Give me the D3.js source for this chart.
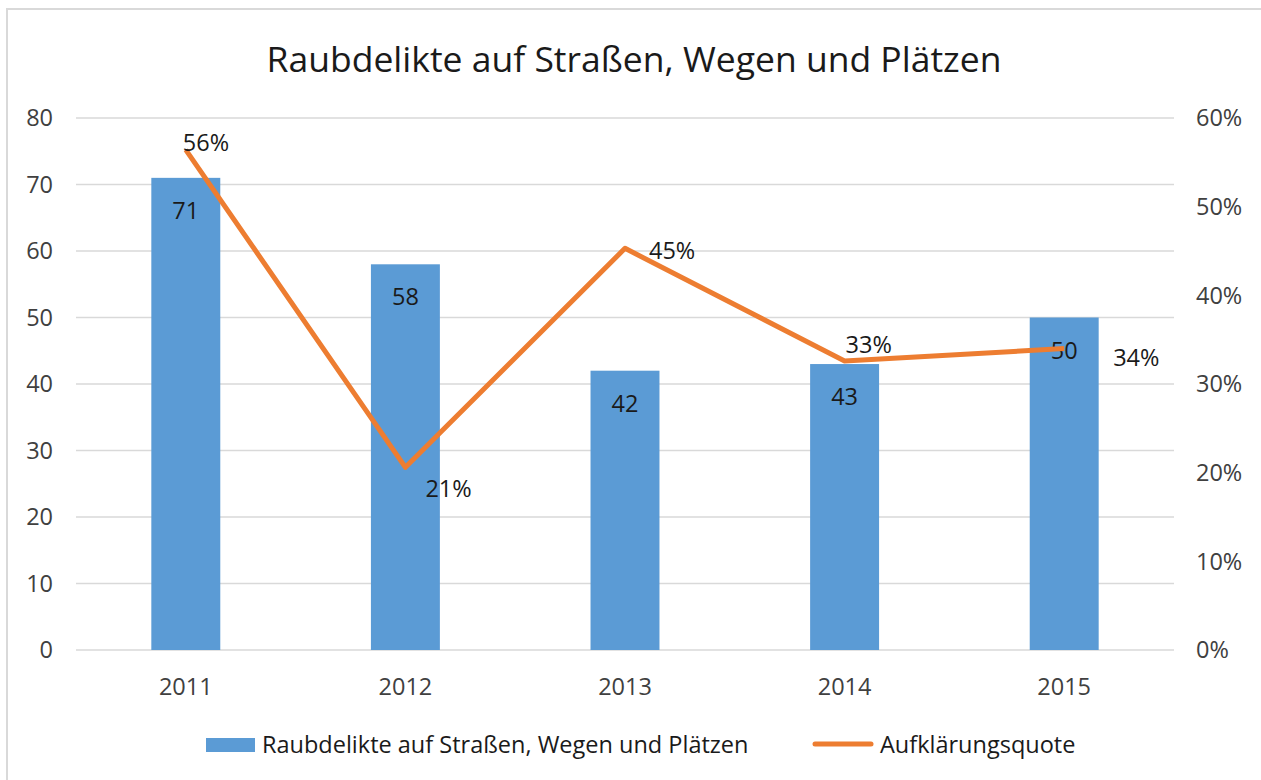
<!DOCTYPE html>
<html>
<head>
<meta charset="utf-8">
<script src="https://cdn.jsdelivr.net/npm/d3@7"></script>
<style>
  body { margin: 0; background: #fff; }
  svg { display: block; font-family: 'Open Sans', sans-serif; }
</style>
</head>
<body>
<svg id="chart" width="1261" height="780"></svg>
<script>
(function() {
    'use strict';

    const years = ['2011', '2012', '2013', '2014', '2015'];
    const cases = [71, 58, 42, 43, 50];
    const rate = [0.564, 0.206, 0.453, 0.326, 0.340];
    const leftTicks = [0, 10, 20, 30, 40, 50, 60, 70, 80];
    const rightTicks = [0, 0.1, 0.2, 0.3, 0.4, 0.5, 0.6];
    // label placement for the percentage labels (dx, dy relative to the point)
    const rateLabelOffsets = [[-3, 1], [20, 30], [24, 11], [1, -8], [49, 17]];

    const margin = { top: 118, right: 87, bottom: 130, left: 76 };
    const svg = d3.select('#chart');
    const width = 1261 - margin.left - margin.right;
    const height = 780 - margin.top - margin.bottom;

    // outer frame (only top and left edges are in view)
    svg.append('path')
        .attr('d', 'M7,780V9H1261')
        .attr('fill', 'none')
        .attr('stroke', '#d9d9d9')
        .attr('stroke-width', 2);

    svg.append('text')
        .attr('x', 634)
        .attr('y', 72)
        .attr('text-anchor', 'middle')
        .style('font-size', '35.5px')
        .style('fill', '#1a1a1a')
        .text('Raubdelikte auf Straßen, Wegen und Plätzen');

    const g = svg.append('g')
        .attr('transform', `translate(${margin.left},${margin.top})`);

    const x = d3.scaleBand().domain(years).range([0, width]).paddingInner(0.686).paddingOuter(0.343);
    const xc = d3.scaleBand().domain(years).range([0, width]);
    const yL = d3.scaleLinear().domain([0, 80]).range([height, 0]);
    const yR = d3.scaleLinear().domain([0, 0.6]).range([height, 0]);

    // gridlines
    g.append('g')
        .selectAll('line')
        .data(leftTicks)
        .enter()
        .append('line')
        .attr('x1', 0).attr('x2', width)
        .attr('y1', d => yL(d)).attr('y2', d => yL(d))
        .attr('stroke', '#d9d9d9')
        .attr('stroke-width', 1.3);

    const tickStyle = sel => sel.style('font-size', '23.5px').style('fill', '#404040');

    g.append('g')
        .selectAll('text')
        .data(leftTicks)
        .enter()
        .append('text')
        .attr('x', -23)
        .attr('y', d => yL(d))
        .attr('dy', '0.35em')
        .attr('text-anchor', 'end')
        .text(d => d)
        .call(tickStyle);

    g.append('g')
        .selectAll('text')
        .data(rightTicks)
        .enter()
        .append('text')
        .attr('x', width + 22)
        .attr('y', d => yR(d))
        .attr('dy', '0.35em')
        .attr('text-anchor', 'start')
        .text(d3.format('.0%'))
        .call(tickStyle);

    g.append('g')
        .selectAll('text')
        .data(years)
        .enter()
        .append('text')
        .attr('x', d => xc(d) + xc.bandwidth() / 2)
        .attr('y', height + 45)
        .attr('text-anchor', 'middle')
        .text(d => d)
        .call(tickStyle);

    // bars
    g.append('g')
        .selectAll('rect')
        .data(cases)
        .enter()
        .append('rect')
        .attr('x', (d, i) => x(years[i]))
        .attr('y', d => yL(d))
        .attr('width', x.bandwidth())
        .attr('height', d => height - yL(d))
        .attr('fill', '#5b9bd5');

    g.append('g')
        .selectAll('text')
        .data(cases)
        .enter()
        .append('text')
        .attr('x', (d, i) => x(years[i]) + x.bandwidth() / 2)
        .attr('y', d => yL(d) + 41)
        .attr('text-anchor', 'middle')
        .style('font-size', '23.5px')
        .style('fill', '#1a1a1a')
        .text(d => d);

    // line
    const line = d3.line()
        .x((d, i) => xc(years[i]) + xc.bandwidth() / 2)
        .y(d => yR(d));

    g.append('path')
        .datum(rate)
        .attr('d', line)
        .attr('fill', 'none')
        .attr('stroke', '#ed7d31')
        .attr('stroke-width', 5)
        .attr('stroke-linejoin', 'round');

    g.append('g')
        .selectAll('text')
        .data(rate)
        .enter()
        .append('text')
        .attr('x', (d, i) => xc(years[i]) + xc.bandwidth() / 2 + rateLabelOffsets[i][0])
        .attr('y', (d, i) => yR(d) + rateLabelOffsets[i][1])
        .attr('text-anchor', 'start')
        .style('font-size', '23.5px')
        .style('fill', '#1a1a1a')
        .text(d3.format('.0%'));

    // legend
    const legend = svg.append('g').attr('transform', 'translate(0,745)');
    legend.append('rect')
        .attr('x', 206).attr('y', -7)
        .attr('width', 49).attr('height', 14)
        .attr('fill', '#5b9bd5');
    legend.append('text')
        .attr('x', 262).attr('y', 0).attr('dy', '0.35em')
        .style('font-size', '23.5px').style('fill', '#1a1a1a')
        .text('Raubdelikte auf Straßen, Wegen und Plätzen');
    legend.append('line')
        .attr('x1', 815).attr('x2', 871)
        .attr('y1', -1).attr('y2', -1)
        .attr('stroke', '#ed7d31')
        .attr('stroke-width', 5)
        .attr('stroke-linecap', 'round');
    legend.append('text')
        .attr('x', 880).attr('y', 0).attr('dy', '0.35em')
        .style('font-size', '23.5px').style('fill', '#1a1a1a')
        .text('Aufklärungsquote');
})();
</script>
</body>
</html>
